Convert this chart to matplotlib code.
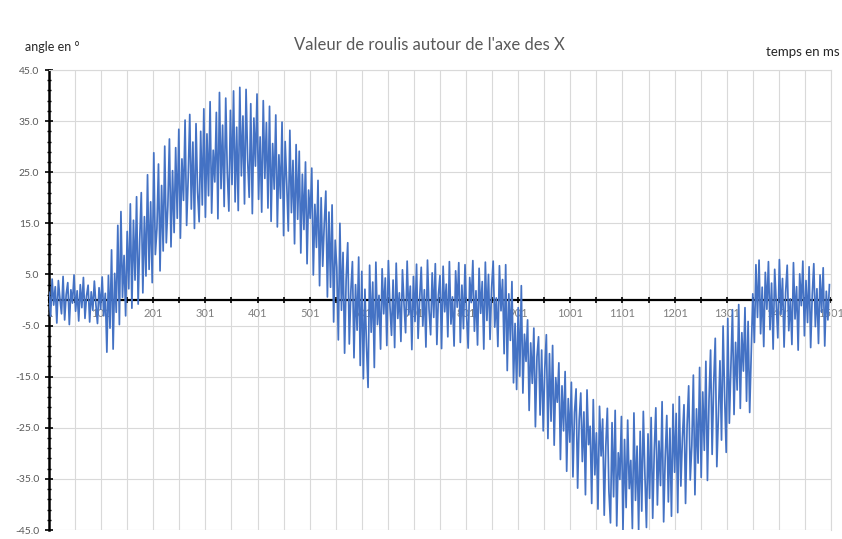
import numpy as np
import matplotlib
matplotlib.use("Agg")
import matplotlib.pyplot as plt
from matplotlib.ticker import FixedLocator, MultipleLocator

# ---- data (angle in degrees, sampled every 3 ms) ----
seg_flat_start = [1.5, -3.2, 4.1, -1.0, 2.6, -4.5, 3.8, 0.2, -2.7, 4.6, -3.9, 1.1, 3.4, -4.8, 2.0, -0.6, 4.9, -2.2, 1.8, -4.1,
                  3.0, -1.5, 4.4, -3.6, 0.8, 2.9, -4.3, 1.6, -2.0, 3.7, -0.9, -4.6, 2.4, -1.8, 4.5, -3.1, 1.3, -10.2, 4.8, -5.5]
seg_rise = [9.8, -9.6, 5.2, -2.4, 14.6, -4.8, 17.3, 0.5, 8.7, -3.1, 13.4, 2.2, 18.8, -1.6, 15.6, 3.9, 20.2, -0.8, 11.8, 21.0,
            1.4, 16.3, 4.7, 24.5, 6.0, 19.2, 3.4, 28.8, 8.9, 14.0, 26.6, 5.7, 22.4, 9.6, 30.1, 11.2, 18.5, 31.5, 10.4, 25.3,
            13.2, 29.8, 16.0, 33.4, 12.1, 27.6, 19.5, 35.2, 14.6, 24.0, 36.3, 17.8, 30.9, 14.0, 34.5, 21.2, 15.3, 33.0, 18.6, 37.4]
seg_peak = [16.2, 32.5, 20.4, 38.8, 17.0, 29.3, 23.1, 36.7, 15.9, 40.6, 21.8, 34.2, 18.3, 39.5, 25.0, 17.4, 37.1, 22.6, 40.9, 19.2,
            33.8, 17.5, 41.6, 24.3, 36.0, 18.8, 41.2, 27.5, 20.1, 38.4, 16.9, 35.6, 26.2, 40.3, 19.7, 31.9, 17.2, 39.0, 23.8, 34.7,
            18.0, 37.9, 15.4, 30.6, 21.7, 36.2, 14.3, 28.4, 19.9, 34.8, 12.6, 31.0, 22.8, 13.5, 33.2, 17.1, 27.3, 11.0, 30.4, 15.8]
seg_fall = [29.1, 9.2, 24.6, 13.8, 27.0, 7.1, 21.5, 16.0, 25.8, 4.9, 18.7, 10.3, 23.4, 2.8, 20.0, 6.6, 14.9, 21.3, 0.6, 17.2,
            2.5, 18.6, -4.3, 11.7, 6.4, -7.8, 15.0, -2.0, 9.3, -10.4, 4.1, 11.2, -8.6, 1.7, 7.5, -11.3, 3.0, -5.9, 8.4, -12.8]
seg_flat_mid = [5.6, -15.4, 2.1, -9.0, -17.1, 6.8, -6.3, 3.5, -13.2, 7.4, -4.8, 0.9, -9.6, 6.1, -2.7, 4.3, -8.9, 7.7, -1.2, -6.9,
                3.9, -9.3, 7.2, -3.6, 1.4, -8.1, 5.9, -0.8, -6.4, 7.6, -2.9, 2.7, -9.7, 4.6, -4.2, 7.0, -7.5, 0.3, 6.4, -5.1,
                2.0, -9.2, 7.8, -1.9, -6.8, 5.3, -3.4, 7.1, -8.7, 1.0, 4.8, -9.5, 6.6, -2.3, 3.1, -7.2, 7.5, -4.7, 0.6, -9.0,
                5.7, -1.4, 7.3, -8.3, 2.9, -5.6, 6.9, -3.0, -9.4, 4.4, -0.5, 7.7, -6.1, 1.8, -8.8, 6.2, -2.6, 3.6, -9.6, 7.4,
                -4.0, 5.0, -7.7, 2.3, 7.6, -5.3, 0.4, -9.1, 6.7, -2.1, 4.0, -10.5, 6.9, -13.8, 1.2, -7.9, 3.6, -16.2, -4.6, -17.5]
seg_descent = [-1.5, -14.9, 2.8, -18.2, -6.7, -12.0, -3.9, -21.6, -8.4, -16.3, -5.5, -24.8, -11.1, -7.2, -22.5, -9.8, -25.6, -13.4, -6.8, -27.1,
               -10.5, -23.7, -8.9, -28.4, -15.2, -20.0, -12.3, -31.2, -16.8, -25.6, -14.0, -33.5, -19.3, -27.8, -16.1, -34.6, -22.0, -17.4, -36.8, -23.5,
               -18.2, -31.6, -21.9, -38.1, -17.6, -28.3, -24.7, -39.8, -19.5, -34.2, -26.0, -40.9, -20.8, -30.5, -23.3, -42.1, -28.7, -21.2, -37.4, -43.6]
seg_trough = [-24.0, -38.5, -21.6, -44.2, -29.9, -35.1, -22.8, -45.0, -27.3, -40.6, -23.5, -36.9, -31.4, -44.7, -22.1, -39.2, -28.6, -45.0, -25.7, -41.3,
              -21.8, -34.0, -44.5, -26.2, -38.8, -23.0, -42.7, -29.5, -21.1, -40.1, -27.6, -36.3, -19.9, -43.4, -30.8, -22.6, -39.5, -25.1, -42.3, -20.4]
seg_climb = [-33.7, -22.2, -41.6, -18.9, -36.4, -27.0, -20.5, -39.8, -24.4, -16.8, -35.2, -28.5, -14.7, -38.1, -21.3, -31.9, -13.2, -34.7, -18.0, -29.4,
             -12.0, -35.3, -19.6, -9.8, -30.2, -16.4, -7.5, -32.6, -22.7, -11.9, -27.4, -5.1, -19.0, -29.8, -3.6, -24.1, -12.8, -1.9, -22.4, -8.3,
             -17.6, -0.9, -21.2, -6.4, -13.9, -1.5, -19.8, -4.2, -22.0, -10.7]
seg_flat_end = [1.2, -8.3, 6.9, -3.4, 7.8, -6.6, 2.5, -9.1, 5.4, -1.8,
                7.5, -5.8, 3.3, -9.6, 6.0, -0.7, -7.4, 7.9, -2.8, 4.2, -9.2, 1.5, 6.8, -6.0, 0.2, -8.7, 7.3, -3.7, 2.6, -9.8,
                5.1, -1.1, 7.6, -7.0, 3.8, -4.4, 6.5, -9.3, 0.9, 7.1, -5.2, 2.2, -8.5, 4.9, -2.4, 6.3, -9.0, 1.7, -3.9, 3.0]

angle = np.array(seg_flat_start + seg_rise + seg_peak + seg_fall + seg_flat_mid
                 + seg_descent + seg_trough + seg_climb + seg_flat_end)
sample_step = 3
time_ms = 1 + sample_step * np.arange(len(angle))

x_tick_labels = [str(v) for v in range(1, 1502, 100)]
y_tick_values = list(range(-45, 46, 10))

title = "Valeur de roulis autour de l'axe des X"
y_label = "angle en \u00b0"
x_label = "temps en ms"

# ---- figure ----
plt.rcParams['font.family'] = ['Lato', 'DejaVu Sans']
fig = plt.figure(figsize=(8.42, 5.39), dpi=100)
ax = fig.add_axes([49 / 842, 9 / 539, 782 / 842, 460 / 539])

ax.plot(time_ms, angle, color='#4472C4', lw=1.25, zorder=3)

ax.set_xlim(1, 1501)
ax.set_ylim(-45, 45)

ax.xaxis.set_major_locator(FixedLocator([int(s) for s in x_tick_labels]))
ax.set_xticklabels(x_tick_labels)
ax.xaxis.set_minor_locator(FixedLocator(list(range(51, 1501, 100))))
ax.yaxis.set_major_locator(FixedLocator(y_tick_values))
ax.yaxis.set_minor_locator(FixedLocator(list(range(-45, 46, 2))))
ax.yaxis.set_major_formatter(matplotlib.ticker.FuncFormatter(lambda v, p: f"{v:.1f}"))

ax.grid(True, which='both', axis='x', color='#d9d9d9', lw=0.8, zorder=0)
ax.grid(True, which='major', axis='y', color='#d9d9d9', lw=0.8, zorder=0)
ax.set_axisbelow(True)

for s in ['top', 'right']:
    ax.spines[s].set_color('#d9d9d9')
    ax.spines[s].set_linewidth(0.8)
ax.spines['left'].set_color('black')
ax.spines['left'].set_linewidth(1.8)
ax.spines['bottom'].set_position(('data', 0))
ax.spines['bottom'].set_color('black')
ax.spines['bottom'].set_linewidth(1.6)

ax.tick_params(axis='x', which='both', direction='inout', length=5, width=1.2, color='black',
               labelsize=8, labelcolor='#7f7f7f', pad=3)
ax.tick_params(axis='y', which='major', direction='inout', length=6, width=1.2, color='black',
               labelsize=7.5, labelcolor='#595959', pad=4)
ax.tick_params(axis='y', which='minor', direction='inout', length=3.5, width=1.0, color='black')

fig.text(429 / 842, 1 - 45 / 539, title, ha='center', va='center', fontsize=12, color='#595959')
fig.text(25 / 842, 1 - 47 / 539, y_label, ha='left', va='center', fontsize=9, color='#262626')
fig.text(840 / 842, 1 - 52 / 539, x_label, ha='right', va='center', fontsize=9.5, color='#262626')

fig.savefig('out.png', dpi=100, facecolor='white')
